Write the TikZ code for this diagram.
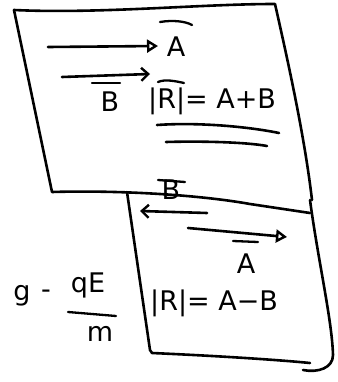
\documentclass[tikz,border=0pt]{standalone}
\usepackage{fontspec}
\setmainfont{DejaVu Sans}
\usetikzlibrary{arrows.meta}
\begin{document}
\begin{tikzpicture}[x=1pt,y=-1pt,
  pen/.style={line width=2.6pt,line cap=round,line join=round},
  thin pen/.style={line width=2.3pt,line cap=round,line join=round},
  lbl/.style={font=\fontsize{27}{29}\selectfont,inner sep=0pt},
  openhead/.style={-{Triangle[open,length=11pt,width=13pt,line width=2.4pt]}},
  barbhead/.style={-{Straight Barb[length=7pt,width=13pt,line width=2.4pt]}}]
\useasboundingbox (0,0) rectangle (337,382);
% upper sheet
\draw[pen] (14,10) .. controls (100,14) and (200,4) .. (275,4)
  .. controls (290,70) and (305,140) .. (312,200);
\draw[pen] (14,10) -- (52,192) .. controls (120,190) and (200,195) .. (250,204) -- (310,213);
% lower sheet
\draw[pen] (127,192) -- (150,350) -- (152,353) .. controls (220,356) and (280,360) .. (310,363);
\draw[pen] (310,200) .. controls (318,260) and (332,320) .. (333,355)
  .. controls (333,368) and (318,373) .. (303,370);
% upper arrows
\coordinate (a1s) at (48,47); \coordinate (a1e) at (158,46);
\draw[pen,openhead] (a1s) -- (a1e);
\node[lbl] (A1) at (176,47) {A};
\draw[thin pen] (160,22) .. controls (172,20) and (185,21) .. (192,25);
\coordinate (b1s) at (62,77); \coordinate (b1e) at (150,74);
\draw[pen,barbhead] (b1s) -- (b1e);
\node[lbl] (B1) at (110,102) {B};
\draw[thin pen] (92,83) -- (120,83);
\node[lbl,anchor=west] (R1) at (148,101) {|R|= A+B};
\draw[thin pen] (158,82) .. controls (165,79) and (175,81) .. (184,83);
\draw[pen] (157,125) .. controls (200,122) and (250,127) .. (279,133);
\draw[pen] (166,142) .. controls (200,141) and (245,142) .. (267,146);
% lower arrows
\node[lbl] (B2) at (171,190) {B};
\draw[thin pen] (158,180) -- (185,182);
\coordinate (b2s) at (207,213); \coordinate (b2e) at (140,211);
\draw[pen,barbhead] (b2s) -- (b2e);
\coordinate (a2s) at (188,228); \coordinate (a2e) at (287,237);
\draw[pen,openhead] (a2s) -- (a2e);
\draw[thin pen] (233,241) -- (258,242);
\node[lbl] (A2) at (246,264) {A};
\node[lbl,anchor=west] (R2) at (150,303) {|R|= A−B};
% left formula
\node[lbl] (g) at (22,296) {g};
\node[lbl] (minus) at (46,294) {-};
\node[lbl] (qE) at (88,285) {qE};
\draw[thin pen] (68,312) -- (116,316);
\node[lbl] (m) at (100,334) {m};
\end{tikzpicture}
\end{document}
